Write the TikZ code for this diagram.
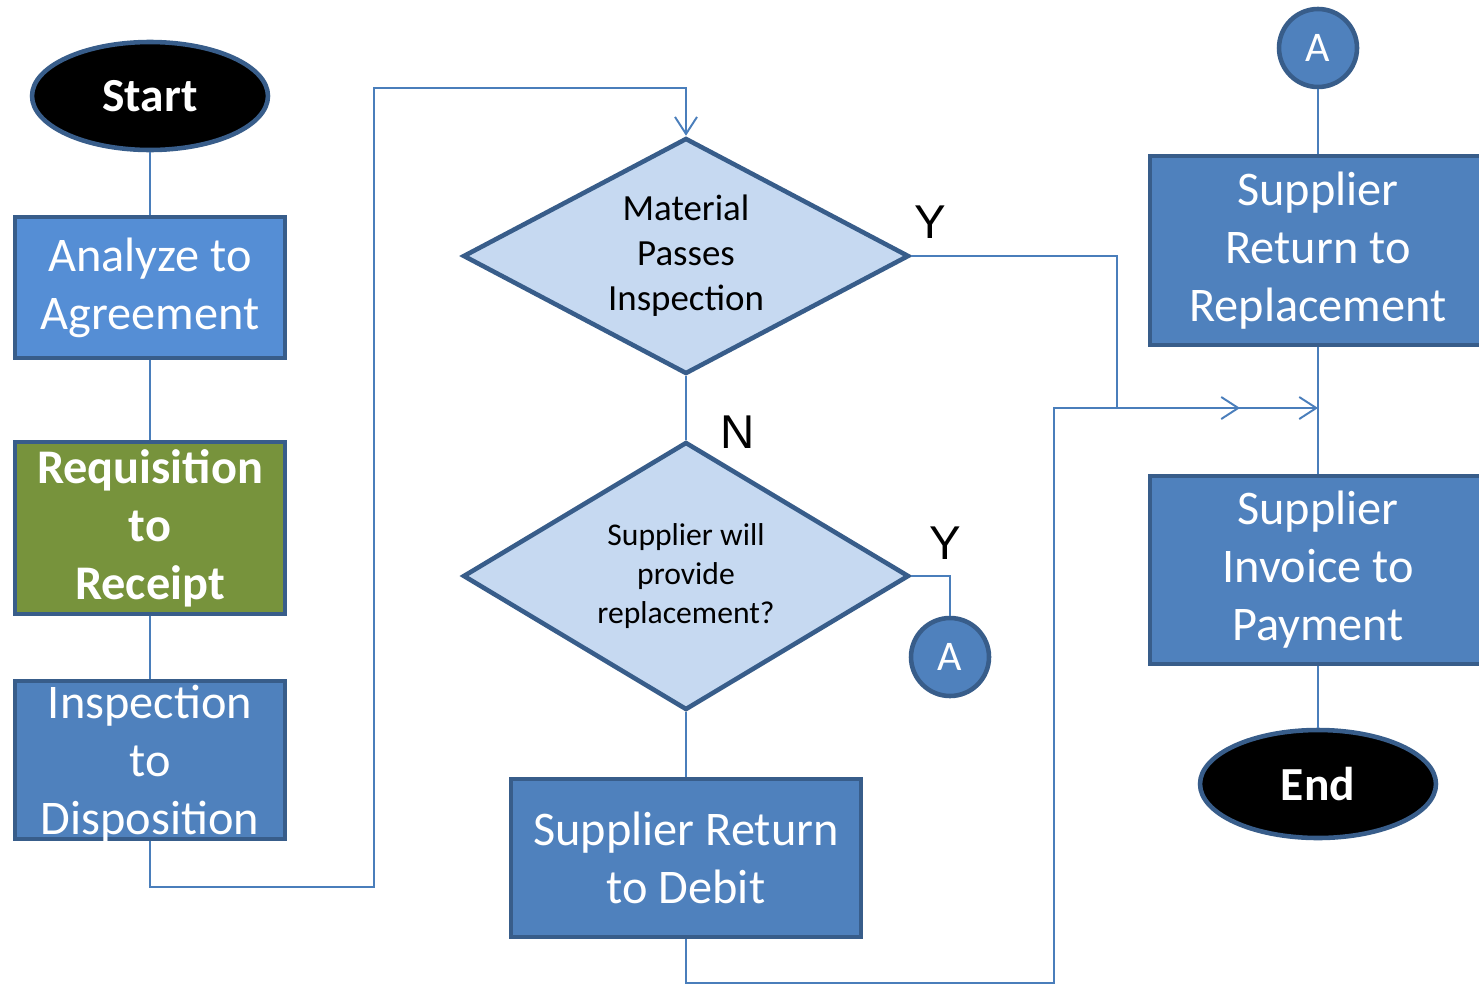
\documentclass[tikz,border=0pt]{standalone}
\usepackage{fontspec}
\setmainfont{Carlito}
\newfontfamily\yesnofont{Liberation Sans}
\usepackage{xcolor}
\usetikzlibrary{arrows.meta, shapes.geometric, positioning}

\definecolor{edgeblue}{HTML}{385D8A}
\definecolor{lineblue}{HTML}{4A7EBB}
\definecolor{boxblue}{HTML}{4F81BD}
\definecolor{lightblue}{HTML}{558ED5}
\definecolor{reqgreen}{HTML}{77933C}
\definecolor{decfill}{HTML}{C6D9F1}

\begin{document}
\begin{tikzpicture}[x=0.02cm, y=-0.02cm,
        proc/.style={rectangle, draw=edgeblue, line width=2.6pt, fill=boxblue,
            text=white, align=center, inner sep=0pt,
            font=\fontsize{27.5}{33}\selectfont},
        proctext/.style={text=white, align=center, inner sep=0pt,
            font=\fontsize{27.5}{33}\selectfont},
        term/.style={ellipse, draw=edgeblue, line width=2.6pt, fill=black,
            text=white, inner sep=0pt, minimum width=4.72cm, minimum height=2.16cm,
            font=\fontsize{27}{33}\selectfont\bfseries},
        decision/.style={diamond, draw=edgeblue, line width=2.6pt, fill=decfill,
            align=center, inner sep=0pt, minimum width=8.92cm},
        joiner/.style={circle, draw=edgeblue, line width=2.6pt, fill=boxblue,
            text=white, inner sep=0pt, minimum size=1.56cm,
            font=\fontsize{24}{28}\selectfont},
        yn/.style={font=\yesnofont\fontsize{27}{32}\selectfont},
        conn/.style={draw=lineblue, line width=1.1pt},
        arr/.style={-{Straight Barb[length=3.4mm, width=4.4mm]}}]
    \clip (0,0) rectangle (1479,987);

    % left column
    \node[term] (start) at (150,96) {Start};
    \node[proc, fill=lightblue, minimum width=5.4cm, minimum height=2.82cm] (analyze) at (150,287.5) {Analyze to\\Agreement};
    \node[proc, fill=reqgreen, font=\fontsize{27.5}{33}\selectfont\bfseries, minimum width=5.4cm, minimum height=3.44cm] (req) at (150,528) {Requisition\\to\\Receipt};
    \node[proc, minimum width=5.4cm, minimum height=3.16cm] (insp) at (150,760) {};
    \node[proctext] (insptext) at (150,764) {Inspection\\to\\Disposition};

    % middle column
    \node[decision, aspect=1.89, minimum height=4.72cm, font=\fontsize{21}{25.6}\selectfont] (pass) at (686,256) {Material\\Passes\\Inspection};
    \node[decision, aspect=1.66, minimum height=5.36cm, font=\fontsize{18}{22}\selectfont] (repl) at (686,576) {Supplier will\\provide\\replacement?};
    \node[joiner] (a1) at (950,657) {A};
    \node[proc, minimum width=7.0cm, minimum height=3.16cm] (debit) at (686,858) {Supplier Return\\to Debit};

    % right column
    \node[joiner] (a2) at (1318,48) {A};
    \node[proc, minimum width=6.72cm, minimum height=3.78cm] (ret) at (1318,250.5) {Supplier\\Return to\\Replacement};
    \node[proc, minimum width=6.72cm, minimum height=3.76cm] (inv) at (1318,570) {Supplier\\Invoice to\\Payment};
    \node[term] (end) at (1318,784) {End};

    % branch labels
    \node[yn] (ypass) at (930,222) {Y};
    \node[yn] (npass) at (738,432) {N};
    \node[yn] (yrepl) at (945,543) {Y};

    \coordinate (ytip) at (1240,408);
    \coordinate (join) at (1318,408);

    \draw[conn] (start) -- (analyze);
    \draw[conn] (analyze) -- (req);
    \draw[conn] (req) -- (insp);
    \draw[conn, arr] (insp.south) |- (374,887) -- (374,88) -| (pass.north);
    \draw[conn] (pass.south) -- (repl.north);
    \draw[conn] (repl.south) -- (debit.north);
    \draw[conn] (repl.east) -| (a1.north);
    \draw[conn, arr] (pass.east) -| (1117,408) -- (ytip);
    \draw[conn, arr] (debit.south) |- (1054,983) -- (1054,408) -- (join);
    \draw[conn] (a2) -- (ret);
    \draw[conn] (ret) -- (inv);
    \draw[conn] (inv) -- (end);
\end{tikzpicture}
\end{document}
